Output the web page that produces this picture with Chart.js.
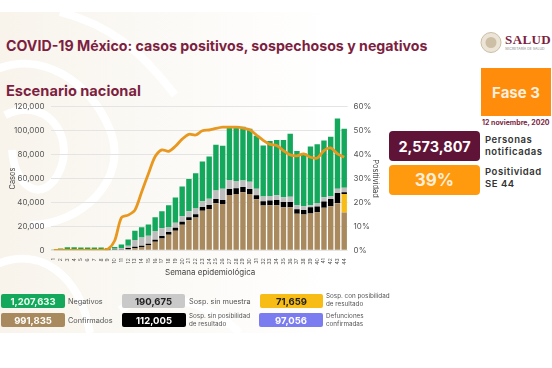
<!DOCTYPE html>
<html lang="es">
<head>
<meta charset="utf-8">
<title>COVID-19 México</title>
<script src="https://cdn.jsdelivr.net/npm/chart.js@4"></script>
<style>
html, body { margin: 0; padding: 0; background: #fff; }
body { width: 552px; height: 368px; overflow: hidden; position: relative; font-family: Inter, "Open Sans", sans-serif; }
.t { position: absolute; white-space: nowrap; }
.box { position: absolute; display: flex; align-items: center; justify-content: center; font-weight: 700; border-radius: 2px; }
.lab { position: absolute; color: #555; white-space: nowrap; }
.big { font-size: 9.5px; font-weight: 600; color: #333; letter-spacing: .55px; line-height: 12px; }
.small { font-size: 6.3px; line-height: 8px; }
#wrap { position: absolute; left: 0; top: 96px; width: 380px; height: 189px; }
#bg { position: absolute; left: 0; top: 0; }
</style>
</head>
<body>
<svg id="bg" width="552" height="368" fill="none" stroke="#fff" stroke-width="8">
  <defs><linearGradient id="fade" x1="0" x2="1" y1="0" y2="0"><stop offset="0" stop-color="#f8f4ec"/><stop offset=".45" stop-color="#fbf9f5"/><stop offset="1" stop-color="#ffffff"/></linearGradient></defs>
  <rect x="0" y="12" width="330" height="321" fill="url(#fade)" stroke="none"/>
  <path d="M-5 70 C40 50 90 80 110 130 S80 225 30 225"/>
  <path d="M5 115 C45 95 75 135 60 170 S15 190 12 150"/>
  <path d="M-5 265 C40 245 80 275 90 333"/>
  <path d="M120 310 C150 290 200 295 240 333"/>
  <path d="M60 12 C110 25 140 50 175 95"/>
</svg>
<div class="t" style="left:6px;top:37px;font-size:14.2px;font-weight:700;color:#7d1f41">COVID-19 México: casos positivos, sospechosos y negativos</div>
<div class="t" style="left:6px;top:82px;font-size:14.6px;font-weight:700;color:#7d1f41">Escenario nacional</div>

<svg style="position:absolute;left:480px;top:31px" width="22" height="23"><circle cx="11" cy="11.5" r="10" fill="#ece4d6" stroke="#cdbfa6"/><circle cx="11" cy="11.5" r="5.5" fill="#cdbfa6"/></svg>
<div class="t" style="left:505px;top:32px;font:700 13px 'Liberation Serif',serif;color:#7d1f41;letter-spacing:.4px">SALUD</div>
<div class="t" style="left:505px;top:47px;font-size:3.5px;color:#888">SECRETARÍA DE SALUD</div>

<div class="box" style="left:481px;top:68px;width:70px;height:48px;background:#ff8c0a;color:#fbeedd;font-size:15px;border-radius:0">Fase 3</div>
<div class="t" style="left:482px;top:118px;font-size:7px;font-weight:700;color:#7d1f41">12 noviembre, 2020</div>
<div class="box" style="left:389px;top:131px;width:91px;height:30px;background:#5f1336;color:#fff;font-size:14.5px;border-radius:4px">2,573,807</div>
<div class="box" style="left:389px;top:165px;width:91px;height:30px;background:#ff9a0e;color:#fdeeda;font-size:17px;border-radius:4px">39%</div>
<div class="lab big" style="left:485px;top:134px">Personas<br>notificadas</div>
<div class="lab big" style="left:485px;top:166px">Positividad<br>SE 44</div>

<div id="wrap"><canvas id="myChart"></canvas></div>
<div class="t" style="left:165px;top:267px;font-size:8px;color:#444">Semana epidemiológica</div>

<div class="box" style="left:1px;top:294px;width:64px;height:14px;background:#14a85c;color:#eafff0;font-size:9.5px">1,207,633</div>
<div class="box" style="left:1px;top:313px;width:64px;height:14px;background:#a98a5e;color:#fff;font-size:9.5px">991,835</div>
<div class="box" style="left:122px;top:294px;width:63px;height:14px;background:#c9c9c9;color:#222;font-size:9.5px">190,675</div>
<div class="box" style="left:122px;top:313px;width:64px;height:14px;background:#000;color:#fff;font-size:9.5px">112,005</div>
<div class="box" style="left:260px;top:294px;width:63px;height:14px;background:#f7bd16;color:#222;font-size:9.5px">71,659</div>
<div class="box" style="left:259px;top:313px;width:64px;height:14px;background:#7a7cf0;color:#fff;font-size:9.5px">97,056</div>
<div class="lab" style="left:68px;top:297px;font-size:7.3px">Negativos</div>
<div class="lab" style="left:68px;top:316px;font-size:7.3px">Confirmados</div>
<div class="lab" style="left:189px;top:297px;font-size:7.3px">Sosp. sin muestra</div>
<div class="lab small" style="left:189px;top:312px">Sosp. sin posibilidad<br>de resultado</div>
<div class="lab small" style="left:326px;top:292px">Sosp. con posibilidad<br>de resultado</div>
<div class="lab small" style="left:326px;top:312px">Defunciones<br>confirmadas</div>

<script>
var semanas = ["1", "2", "3", "4", "5", "6", "7", "8", "9", "10", "11", "12", "13", "14", "15", "16", "17", "18", "19", "20", "21", "22", "23", "24", "25", "26", "27", "28", "29", "30", "31", "32", "33", "34", "35", "36", "37", "38", "39", "40", "41", "42", "43", "44"];

var confirmados = [0, 0, 0, 0, 0, 0, 0, 0, 100, 300, 500, 830, 1660, 2770, 4430, 7200, 9970, 13000, 16300, 21300, 25200, 27400, 33000, 34600, 39300, 38800, 46300, 47100, 48500, 47100, 42700, 37400, 37700, 37700, 36000, 36000, 30500, 29900, 30700, 31900, 35500, 36800, 39300, 31600];
var conResultado = [0, 0, 0, 0, 0, 0, 0, 0, 0, 0, 0, 0, 0, 0, 0, 0, 0, 0, 0, 0, 0, 0, 0, 0, 0, 0, 0, 0, 0, 0, 0, 0, 0, 0, 0, 0, 0, 0, 0, 0, 0, 0, 300, 15500];
var sinResultado = [0, 0, 0, 0, 0, 0, 0, 0, 0, 100, 200, 1100, 1400, 1100, 1100, 1700, 1900, 2200, 2500, 2500, 2500, 2800, 3300, 3300, 3600, 3300, 5000, 4700, 4400, 4200, 3300, 3600, 3900, 4400, 4400, 4400, 3900, 3900, 5300, 4700, 5300, 6100, 8300, 1400];
var sinMuestra = [0, 0, 0, 0, 0, 0, 0, 0, 0, 800, 1300, 1900, 5500, 6900, 6600, 7200, 6600, 4200, 4200, 4700, 5000, 4700, 4700, 5300, 7200, 9400, 7500, 6100, 5500, 6100, 5500, 3900, 3900, 3900, 3900, 4400, 3300, 3000, 1700, 3000, 3600, 2200, 3600, 3900];
var negativos = [200, 1500, 2500, 2500, 2300, 2300, 2300, 2300, 1800, 1500, 2800, 5300, 7800, 8600, 9400, 11600, 14100, 18300, 21100, 24900, 26900, 29600, 33200, 35200, 38200, 36000, 43500, 44300, 44900, 44300, 44300, 42700, 46000, 46300, 47900, 52600, 45400, 44600, 49000, 49000, 47400, 49900, 58700, 49300];
var positividad = [0, 0, 0, 0, 0, 0, 0, 0, 0.5, 4, 13.7, 14.7, 16.8, 24.4, 32, 39.2, 42, 41.4, 43.5, 46.5, 48.5, 48.2, 50, 50.3, 51, 51.5, 51.5, 51.5, 51.1, 50.4, 48.2, 46, 44.3, 43.8, 41.7, 39.9, 39.5, 40.3, 38.9, 38.6, 41.7, 42.8, 40.3, 38.9];

var tickFont = { family: "Inter", size: 8 };
var tickColor = "#555";

function barSet(label, data, color) {
    return { type: "bar", label: label, data: data, backgroundColor: color, stack: "casos", yAxisID: "y", order: 2, barPercentage: 0.8, categoryPercentage: 1 };
}

var ctx = document.getElementById("myChart").getContext("2d");
var myChart = new Chart(ctx, {
    data: {
        labels: semanas,
        datasets: [
            { type: "line", label: "Positividad", data: positividad, borderColor: "#e8981f", borderWidth: 2.8, pointRadius: 0, tension: 0.3, yAxisID: "y2", order: 1 },
            barSet("Confirmados", confirmados, "#a98a5e"),
            barSet("Sosp. con posibilidad de resultado", conResultado, "#f7bd16"),
            barSet("Sosp. sin posibilidad de resultado", sinResultado, "#000000"),
            barSet("Sosp. sin muestra", sinMuestra, "#bdbdbd"),
            barSet("Negativos", negativos, "#14a85c")
        ]
    },
    options: {
        responsive: true,
        maintainAspectRatio: false,
        animation: false,
        layout: { padding: { top: 2 } },
        plugins: { legend: { display: false }, tooltip: { enabled: false } },
        scales: {
            x: {
                stacked: true,
                grid: { display: false },
                border: { display: false },
                ticks: { font: { family: "Inter", size: 5 }, color: tickColor, autoSkip: false, maxRotation: 90, minRotation: 90, padding: 0 },
                afterFit: function (scale) { scale.height = 34.7; }
            },
            y: {
                stacked: true,
                min: 0,
                max: 120000,
                grid: { color: "#e4e4e4", drawTicks: false },
                border: { display: false },
                ticks: { stepSize: 20000, font: tickFont, color: tickColor, padding: 6, callback: function (v) { return v.toLocaleString("en-US"); } },
                title: { display: true, text: "Casos", font: { family: "Inter", size: 7.5 }, color: "#444", padding: { top: 8, bottom: 0 } },
                afterFit: function (scale) { scale.width = 50.5; }
            },
            y2: {
                position: "right",
                min: 0,
                max: 60,
                grid: { display: false, drawTicks: false },
                border: { display: false },
                ticks: { stepSize: 10, font: tickFont, color: tickColor, padding: 6, callback: function (v) { return v + "%"; } },
                title: { display: true, text: "Positividad", font: { family: "Inter", size: 7.5 }, color: "#444", padding: 0 },
                afterFit: function (scale) { scale.width = 32.4; }
            }
        }
    }
});
</script>
</body>
</html>
